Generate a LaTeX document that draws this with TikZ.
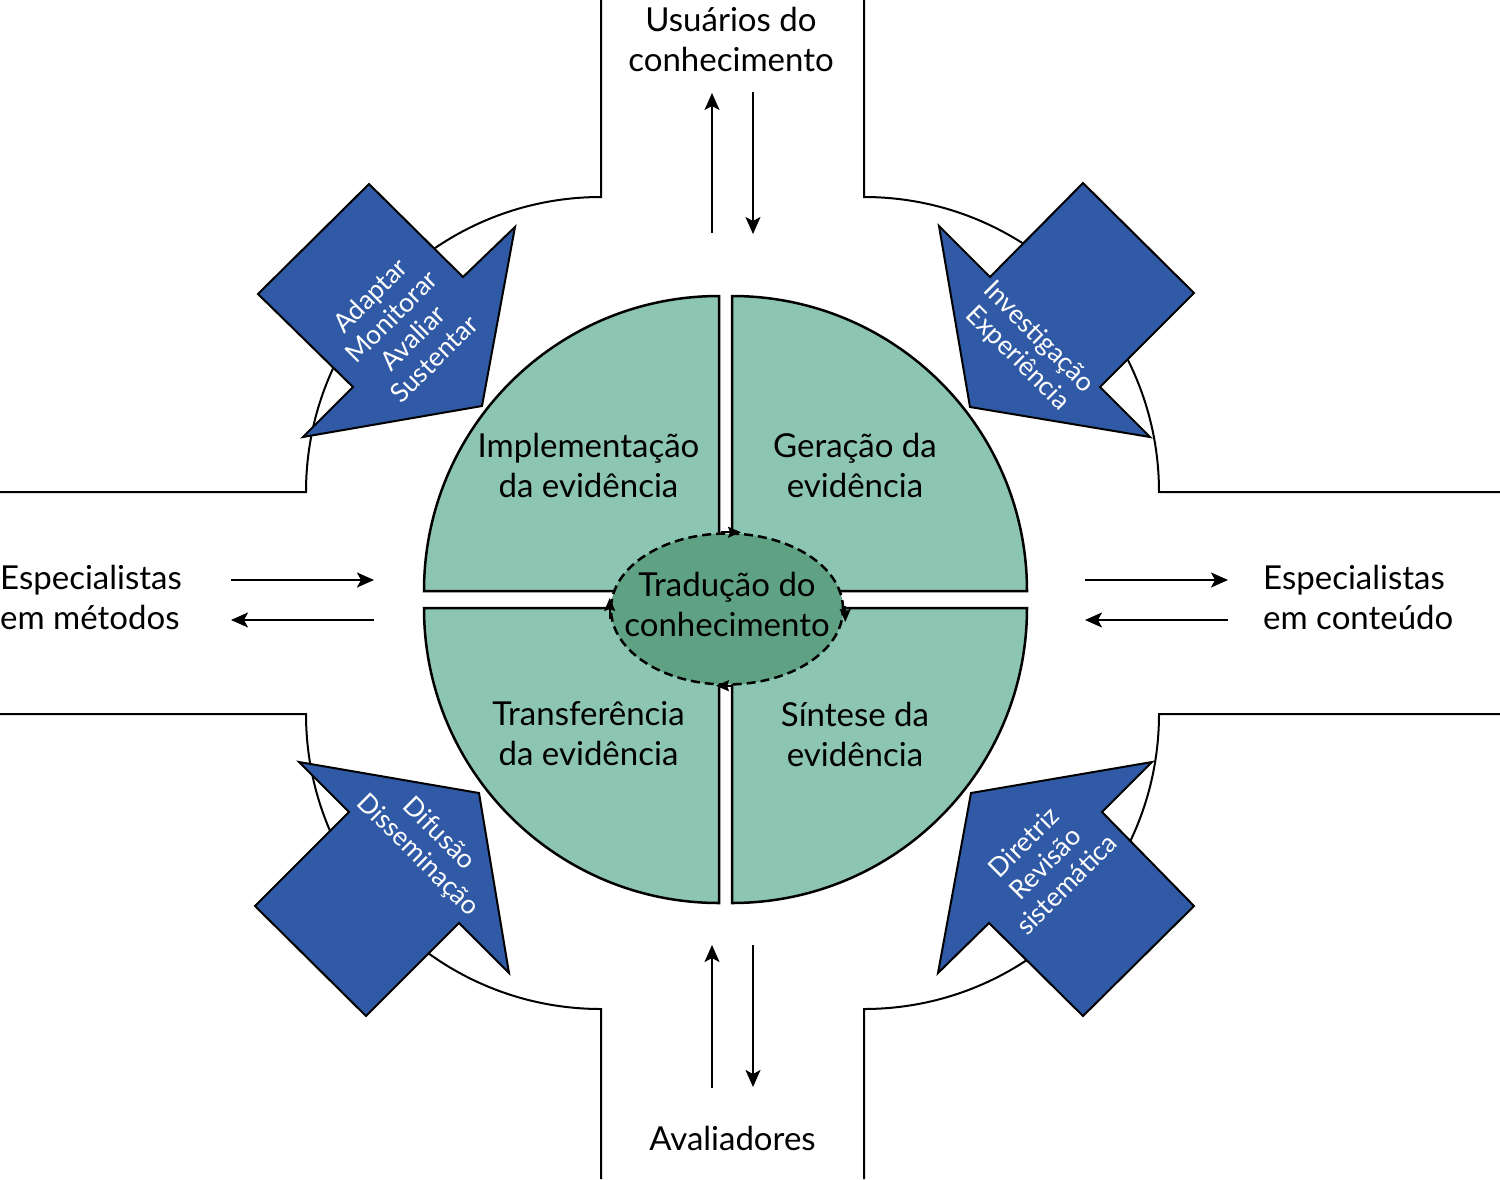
\documentclass[tikz,border=0pt]{standalone}
\usepackage{fontspec}
\setmainfont{Lato}
\usetikzlibrary{arrows.meta,shapes.geometric,calc}
\definecolor{qgreen}{HTML}{8DC5B3}
\definecolor{egreen}{HTML}{5FA283}
\definecolor{barrow}{HTML}{3059A6}
\begin{document}
\begin{tikzpicture}[x=1pt,y=-1pt,
  road/.style={line width=2pt,draw=black},
  quad/.style={fill=qgreen,draw=black,line width=2.5pt,line join=miter},
  bigarrow/.style={fill=barrow,draw=black,line width=2pt,line join=miter},
  lbl/.style={font=\fontsize{33}{40}\selectfont,align=center,inner sep=0pt},
  atext/.style={font=\fontsize{26.5}{30}\selectfont,align=center,text=white,inner sep=0pt},
  flow/.style={line width=2pt,-{Stealth[length=17pt,width=15pt,inset=4pt]}},
  eh/.style={line width=1.8pt,-{Stealth[length=13pt,width=11pt,inset=2pt]}}]
\useasboundingbox (0,0) rectangle (1500,1179);
\fill[white] (0,0) rectangle (1500,1179);
% roads
\draw[road] (601,0) -- (601,197) arc[start angle=270,end angle=180,radius=295] -- (0,492);
\draw[road] (864,0) -- (864,197) arc[start angle=270,end angle=360,radius=295] -- (1500,492);
\draw[road] (0,714) -- (306,714) arc[start angle=180,end angle=90,radius=295] -- (601,1179);
\draw[road] (1500,714) -- (1159,714) arc[start angle=0,end angle=90,radius=295] -- (864,1179);
% quadrants
\draw[quad] (719,591) -- (424,591) arc[start angle=180,end angle=270,radius=295] -- cycle;
\draw[quad] (732,591) -- (732,296) arc[start angle=270,end angle=360,radius=295] -- cycle;
\draw[quad] (732,608) -- (1027,608) arc[start angle=0,end angle=90,radius=295] -- cycle;
\draw[quad] (719,608) -- (719,903) arc[start angle=90,end angle=180,radius=295] -- cycle;
% center ellipse
\node[ellipse,draw=black,fill=egreen,line width=2.5pt,dash pattern=on 9pt off 5pt,
      minimum width=232pt,minimum height=151pt,inner sep=0pt] (tk) at (727,609) {};
\draw[eh] ($(tk.north)+(-6,0)$) -- ($(tk.north)+(14,0)$);
\draw[eh] ($(tk.east)+(1,-3)$) -- ($(tk.east)+(1,13)$);
\draw[eh] ($(tk.south)+(6,0)$) -- ($(tk.south)+(-11,0)$);
\draw[eh] ($(tk.west)+(0,10)$) -- ($(tk.west)+(0,-11)$);
% blue arrows
\draw[bigarrow] (369,184) -- (463,277) -- (515,227) -- (482,406) -- (303,437) -- (353,387) -- (258,294) -- cycle;
\draw[bigarrow] (1083,183) -- (1194,293) -- (1100,387) -- (1150,437) -- (970,407) -- (939,226) -- (990,277) -- cycle;
\draw[bigarrow] (299,762) -- (479,793) -- (509,973) -- (459,923) -- (366,1016) -- (255,906) -- (349,812) -- cycle;
\draw[bigarrow] (1152,762) -- (1102,812) -- (1194,906) -- (1083,1016) -- (989,923) -- (938,973) -- (971,793) -- cycle;
\node[atext,rotate=45] (tltxt) at (402,327) {Adaptar\\Monitorar\\Avaliar\\Sustentar};
\node[atext,rotate=-45] (trtxt) at (1028,348) {Investigação\\Experiência};
\node[atext,rotate=-45] (bltxt) at (428,845) {Difusão\\Disseminação};
\node[atext,rotate=45] (brtxt) at (1045,863) {Diretriz\\Revisão\\sistemática};
% labels
\node[lbl] (users) at (731,39.5) {Usuários do\\conhecimento};
\node[lbl,anchor=base] (aval) at (732.5,1150.7) {Avaliadores};
\node[lbl,align=left,anchor=west] (metodos) at (0,597.5) {Especialistas\\em métodos};
\node[lbl,align=left,anchor=west] (conteudo) at (1263,597.5) {Especialistas\\em conteúdo};
\node[lbl] (impl) at (588.5,465) {Implementação\\da evidência};
\node[lbl] (ger) at (855,465) {Geração da\\evidência};
\node[lbl] (transf) at (588.5,734) {Transferência\\da evidência};
\node[lbl] (sint) at (855,734) {Síntese da\\evidência};
\node[lbl] (tktxt) at (727,604) {Tradução do\\conhecimento};
% flow arrows
\coordinate (tu1) at (712,233); \coordinate (tu2) at (712,93);
\coordinate (td1) at (753,92);  \coordinate (td2) at (753,234);
\coordinate (bu1) at (712,1088); \coordinate (bu2) at (712,945);
\coordinate (bd1) at (753,945); \coordinate (bd2) at (753,1087);
\coordinate (lr1) at (231,580); \coordinate (lr2) at (374,580);
\coordinate (ll1) at (374,620); \coordinate (ll2) at (231,620);
\coordinate (rr1) at (1085,580); \coordinate (rr2) at (1228,580);
\coordinate (rl1) at (1228,620); \coordinate (rl2) at (1085,620);
\draw[flow] (tu1) -- (tu2);
\draw[flow] (td1) -- (td2);
\draw[flow] (bu1) -- (bu2);
\draw[flow] (bd1) -- (bd2);
\draw[flow] (lr1) -- (lr2);
\draw[flow] (ll1) -- (ll2);
\draw[flow] (rr1) -- (rr2);
\draw[flow] (rl1) -- (rl2);
\end{tikzpicture}
\end{document}
